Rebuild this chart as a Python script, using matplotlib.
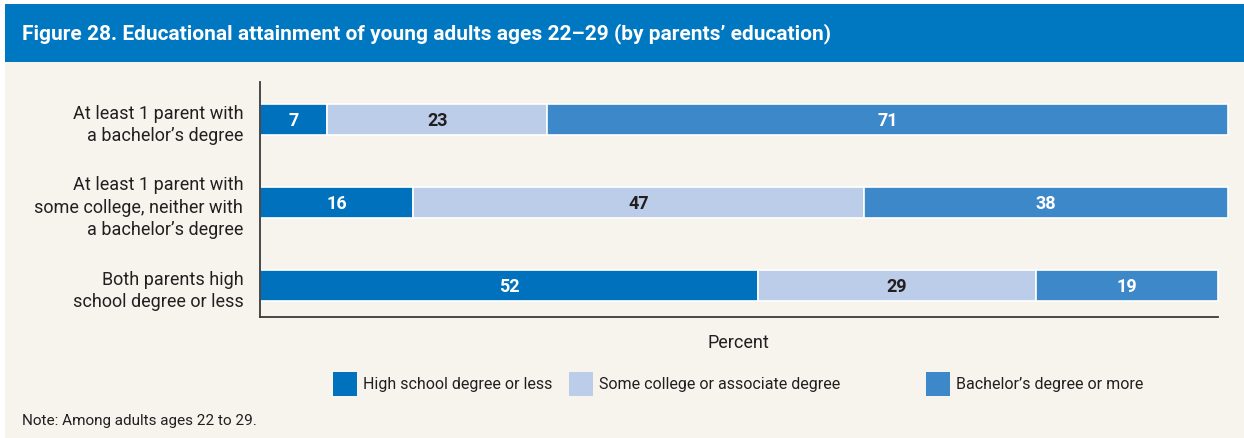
import matplotlib
matplotlib.use("Agg")
import matplotlib.pyplot as plt
from matplotlib.patches import Rectangle
import numpy as np

categories = [
    "At least 1 parent with\na bachelor\u2019s degree",
    "At least 1 parent with\nsome college, neither with\na bachelor\u2019s degree",
    "Both parents high\nschool degree or less",
]
series_names = [
    "High school degree or less",
    "Some college or associate degree",
    "Bachelor\u2019s degree or more",
]
high_school = [7, 16, 52]
some_college = [23, 47, 29]
bachelors = [71, 38, 19]

title = "Figure 28. Educational attainment of young adults ages 22\u201329 (by parents\u2019 education)"
note = "Note: Among adults ages 22 to 29."
xlabel = "Percent"

colors = ["#0071bc", "#bccde9", "#3d88c9"]
label_colors = ["white", "#231f20", "white"]
bg = "#f7f4ee"
title_bg = "#0077c1"
txt = "#231f20"

FONT = ["Roboto", "DejaVu Sans"]
plt.rcParams["font.family"] = FONT

W, H = 1244, 439
fig = plt.figure(figsize=(W / 100, H / 100), dpi=100)
fig.patch.set_facecolor("white")

def fx(px):
    return px / W

def fy(py):
    return 1 - py / H

# beige background and title bar
fig.add_artist(Rectangle((fx(5), 0), 1 - fx(5), fy(5), transform=fig.transFigure,
                         facecolor=bg, edgecolor="none", zorder=-10))
fig.add_artist(Rectangle((fx(5), fy(63)), 1 - fx(5), fy(5) - fy(63), transform=fig.transFigure,
                         facecolor=title_bg, edgecolor="none", zorder=-9))
fig.text(fx(22), fy(34), title, color="white", fontsize=15, fontweight="bold",
         ha="left", va="center")

ax = fig.add_axes([fx(260), fy(318), fx(1218) - fx(260), fy(83) - fy(318)])
ax.set_facecolor("none")

ypos = np.arange(len(categories))
series = [high_school, some_college, bachelors]
left = np.zeros(len(categories))
for vals, col, lc, name in zip(series, colors, label_colors, series_names):
    vals = np.array(vals, dtype=float)
    ax.barh(ypos, vals, left=left, height=0.373, color=col, edgecolor="white",
            linewidth=1.2, clip_on=False, label=name)
    for y, l, v in zip(ypos, left, vals):
        ax.text(l + v / 2, y, f"{int(v)}", ha="center", va="center", color=lc,
                fontsize=13, fontweight="bold", clip_on=False)
    left += vals

ax.set_xlim(0, 100)
ax.set_ylim(2.3795, -0.452)
ax.set_yticks(ypos)
ax.set_yticklabels(categories, fontsize=13, color=txt, linespacing=1.3)
ax.tick_params(axis="y", length=0, pad=12)
ax.set_xticks([])
for s in ["top", "right"]:
    ax.spines[s].set_visible(False)
for s in ["left", "bottom"]:
    ax.spines[s].set_color("#3a3a3a")
    ax.spines[s].set_linewidth(1.3)

fig.text(fx(738), fy(343), xlabel, ha="center", va="center", fontsize=13, color=txt)

# legend
leg_x = [333, 569, 926]
for x0, col, name in zip(leg_x, colors, series_names):
    fig.add_artist(Rectangle((fx(x0), fy(397)), fx(24), fy(373) - fy(397),
                             transform=fig.transFigure, facecolor=col, edgecolor="none"))
    fig.text(fx(x0 + 30), fy(385), name, ha="left", va="center", fontsize=11.5, color=txt)

fig.text(fx(22), fy(421), note, ha="left", va="center", fontsize=11, color=txt)

fig.savefig("out.png", dpi=100, facecolor=fig.get_facecolor())
